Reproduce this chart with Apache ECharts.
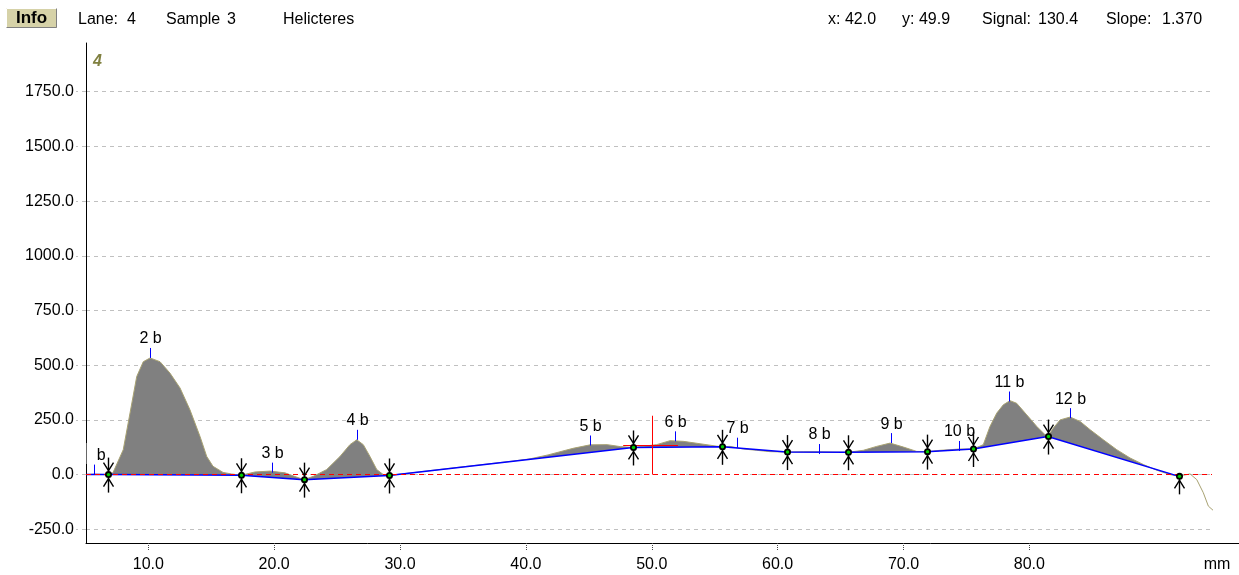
<!DOCTYPE html>
<html>
<head>
<meta charset="utf-8">
<script src="https://cdn.jsdelivr.net/npm/echarts@6/dist/echarts.min.js"></script>
<style>
html,body{margin:0;padding:0;background:#fff;}
#chart{width:1239px;height:575px;}
</style>
</head>
<body>
<div id="chart"></div>
<script>
// lane profile (mm, signal)
var profileX = [5.05, 5.69, 6.80, 7.19, 8.01, 8.55, 9.08, 9.60, 10.14, 10.93, 11.72, 12.52, 13.31, 14.11, 14.64, 15.14, 15.94, 16.60, 17.37,
	18.48, 19.67, 20.86, 21.66, 22.37, 23.11, 24.17, 25.23, 26.02, 26.56, 27.08, 27.61, 28.15, 28.67, 29.12,
	33.71, 39.00, 40.33, 41.76, 43.74, 45.10, 46.45, 47.49, 48.52, 50.39, 51.45, 52.51, 53.84, 55.16, 55.58,
	56.22, 57.27, 58.34, 59.39, 60.72, 62.04, 63.37, 65.57, 66.81, 67.87, 68.93, 69.99, 71.05, 71.85,
	72.90, 74.49, 75.55, 76.34, 76.87, 77.41, 77.93, 78.46, 78.99, 79.79, 80.59, 81.25, 81.46,
	81.91, 82.44, 83.24, 84.03, 84.83, 85.88, 86.94, 88.00, 89.06, 90.12, 91.18, 91.89, 92.24, 92.77, 93.30, 93.82, 94.22, 94.89];
var profileY = [0, 2, 0, 8, 114, 282, 448, 516, 533, 516, 464, 396, 296, 174, 83, 38, 10, 3, -3,
	12, 16, 8, -9, -23, -8, 23, 83, 137, 159, 137, 83, 23, 0, -4,
	27, 62, 72, 90, 120, 136, 137, 128, 124, 137, 155, 152, 141, 130, 127,
	129, 117, 111, 105, 103, 104, 104, 102, 111, 129, 144, 126, 106, 105,
	111, 117, 117, 137, 220, 281, 319, 338, 326, 273, 220, 182, 174,
	213, 250, 263, 243, 205, 159, 114, 76, 46, 20, 0, -8, -3, 3, -23, -83, -144, -178];
// band boundaries
var markerX = [6.80, 17.37, 22.37, 29.12, 48.52, 55.58, 60.72, 65.57, 71.85, 75.55, 81.46, 91.89];
var markerY = [0, -3, -23, -4, 124, 127, 103, 102, 105, 117, 174, -8];
var markerKind = ['both', 'both', 'both', 'both', 'both', 'both', 'both', 'both', 'both', 'both', 'both', 'up'];
// band tops
var peakX = [5.69, 10.14, 19.80, 26.56, 45.10, 51.84, 56.80, 63.29, 68.99, 74.44, 78.41, 83.24];
var peakY = [0, 533, 9, 159, 133, 152, 123, 94, 144, 108, 334, 258];
var peakNames = ['1 b', '2 b', '3 b', '4 b', '5 b', '6 b', '7 b', '8 b', '9 b', '10 b', '11 b', '12 b'];
// axes
var yTicks = [-250, 0, 250, 500, 750, 1000, 1250, 1500, 1750];
var xTicks = [10, 20, 30, 40, 50, 60, 70, 80];

var FONT = "'Liberation Sans', Arial, sans-serif";
var chart = echarts.init(document.getElementById('chart'));

var profileData = [];
for (var i = 0; i < profileX.length; i++) {
	profileData.push([profileX[i], profileY[i]]);
}
var baseData = [[profileX[0], 0]];
for (var i = 0; i < markerX.length; i++) {
	baseData.push([markerX[i], markerY[i]]);
}
var segData = [];
for (var i = 0; i < baseData.length - 1; i++) {
	segData.push([baseData[i][0], baseData[i + 1][0]]);
}
var markerData = [];
for (var i = 0; i < markerX.length; i++) {
	markerData.push([markerX[i], markerY[i]]);
}
var peakData = [];
for (var i = 0; i < peakX.length; i++) {
	peakData.push([peakX[i], peakY[i]]);
}

//灰色填充：曲线与基线之间
function renderFill(params, api) {
	var a = api.value(0), b = api.value(1);
	var pts = [];
	for (var k = 0; k < profileX.length; k++) {
		if (profileX[k] >= a - 1e-6 && profileX[k] <= b + 1e-6) {
			pts.push(api.coord([profileX[k], profileY[k]]));
		}
	}
	return {type: 'polygon', shape: {points: pts}, style: {fill: '#808080'}};
}

function renderMarker(params, api) {
	var p = api.coord([api.value(0), api.value(1)]);
	var x = Math.round(p[0]) + 0.5, y = p[1];
	var kind = markerKind[params.dataIndex];
	var st = {stroke: '#000', fill: null, lineWidth: 1.4};
	var children = [];
	children.push({type: 'line', shape: {x1: x, y1: kind === 'up' ? y : y - 17, x2: x, y2: y + 18}, style: st});
	if (kind !== 'up') {
		children.push({type: 'polyline', shape: {points: [[x - 5, y - 12], [x, y - 4], [x + 5, y - 12]]}, style: st});
	}
	children.push({type: 'polyline', shape: {points: [[x - 5, y + 12], [x, y + 4], [x + 5, y + 12]]}, style: st});
	children.push({type: 'circle', shape: {cx: x, cy: y, r: 3.5}, style: {fill: '#000'}});
	children.push({type: 'circle', shape: {cx: x, cy: y, r: 1.7}, style: {fill: '#00d000'}});
	return {type: 'group', children: children};
}

function renderPeak(params, api) {
	var p = api.coord([api.value(0), api.value(1)]);
	var x = Math.round(p[0]) + 0.5;
	return {type: 'group', children: [
		{type: 'line', shape: {x1: x, y1: p[1] - 10, x2: x, y2: p[1]}, style: {stroke: '#0000ff', lineWidth: 1}},
		{type: 'text', x: x, y: p[1] - 11,
			style: {text: peakNames[params.dataIndex], align: 'center', verticalAlign: 'bottom', fill: '#000', font: '16px ' + FONT}}
	]};
}

var option = {
	animation: false,
	backgroundColor: '#fff',
	grid: {left: 86, top: 43, right: 27, bottom: 32},
	xAxis: {
		type: 'value',
		min: 5.05,
		max: 94.51,
		axisLine: {onZero: false, lineStyle: {color: '#000', width: 1}},
		axisTick: {show: true, length: 7, customValues: xTicks, lineStyle: {color: '#444', type: 'dotted'}},
		axisLabel: {customValues: xTicks, margin: 14, color: '#000', fontFamily: FONT, fontSize: 16,
			formatter: function(v) { return v.toFixed(1); }},
		splitLine: {show: false}
	},
	yAxis: {
		type: 'value',
		min: -312.6,
		max: 1972.6,
		axisLine: {show: true, onZero: false, lineStyle: {color: '#000', width: 1}},
		axisTick: {show: true, length: 10, customValues: yTicks, lineStyle: {color: '#c0c0c0', type: [4, 4]}},
		axisLabel: {customValues: yTicks, margin: 12, color: '#000', fontFamily: FONT, fontSize: 16,
			formatter: function(v) { return v.toFixed(1); }},
		splitLine: {show: true, lineStyle: {color: '#c0c0c0', type: [4, 4]}}
	},
	series: [
		{
			type: 'custom', name: 'fill', renderItem: renderFill, data: segData,
			encode: {x: [0, 1]}, clip: true, silent: true, z: 1
		},
		{
			type: 'line', name: 'profile', data: profileData, showSymbol: false, clip: false,
			lineStyle: {color: '#a8a272', width: 1}, z: 2, silent: true,
			markLine: {
				silent: true, symbol: 'none', label: {show: false},
				data: [
					{yAxis: 0, lineStyle: {color: '#ff0000', type: [5, 4], width: 1}},
					[{coord: [50, 0], lineStyle: {color: '#ff0000', type: 'solid', width: 1}}, {coord: [50, 269]}],
					[{coord: [47.73, 132], lineStyle: {color: '#ff0000', type: 'solid', width: 1}}, {coord: [52.08, 132]}]
				]
			}
		},
		{
			type: 'line', name: 'baseline', data: baseData, showSymbol: false,
			lineStyle: {color: '#0000ff', width: 1.5}, z: 3, silent: true
		},
		{
			type: 'custom', name: 'peaks', renderItem: renderPeak, data: peakData,
			clip: true, silent: true, z: 4
		},
		{
			type: 'custom', name: 'markers', renderItem: renderMarker, data: markerData,
			clip: false, silent: true, z: 5
		}
	],
	graphic: [
		// 第一个峰标签被坐标轴截断，只露出 "b"
		{type: 'rect', z: 100, shape: {x: 66, y: 443, width: 19.5, height: 21}, style: {fill: '#fff'}},
		{type: 'rect', z: 100, shape: {x: 86.6, y: 443, width: 6, height: 21}, style: {fill: '#fff'}},
		{type: 'rect', left: 6, top: 8, shape: {width: 51, height: 20}, style: {fill: '#d6d2a8', stroke: null}},
		{type: 'polyline', shape: {points: [[6.5, 28], [6.5, 8.5], [57, 8.5]]}, style: {stroke: '#fff', fill: null, lineWidth: 1}},
		{type: 'polyline', shape: {points: [[6.5, 27.5], [56.5, 27.5], [56.5, 8.5]]}, style: {stroke: '#808080', fill: null, lineWidth: 1}},
		{type: 'text', x: 31.5, y: 18.5, style: {text: 'Info', align: 'center', verticalAlign: 'middle', font: 'bold 17px ' + FONT, fill: '#000'}},
		{type: 'text', x: 78, y: 20, style: {text: 'Lane:', verticalAlign: 'middle', font: '16px ' + FONT, fill: '#000'}},
		{type: 'text', x: 127, y: 20, style: {text: '4', verticalAlign: 'middle', font: '16px ' + FONT, fill: '#000'}},
		{type: 'text', x: 166, y: 20, style: {text: 'Sample', verticalAlign: 'middle', font: '16px ' + FONT, fill: '#000'}},
		{type: 'text', x: 227, y: 20, style: {text: '3', verticalAlign: 'middle', font: '16px ' + FONT, fill: '#000'}},
		{type: 'text', x: 283, y: 20, style: {text: 'Helicteres', verticalAlign: 'middle', font: '16px ' + FONT, fill: '#000'}},
		{type: 'text', x: 828, y: 20, style: {text: 'x: 42.0', verticalAlign: 'middle', font: '16px ' + FONT, fill: '#000'}},
		{type: 'text', x: 902, y: 20, style: {text: 'y: 49.9', verticalAlign: 'middle', font: '16px ' + FONT, fill: '#000'}},
		{type: 'text', x: 982, y: 20, style: {text: 'Signal:', verticalAlign: 'middle', font: '16px ' + FONT, fill: '#000'}},
		{type: 'text', x: 1038, y: 20, style: {text: '130.4', verticalAlign: 'middle', font: '16px ' + FONT, fill: '#000'}},
		{type: 'text', x: 1106, y: 20, style: {text: 'Slope:', verticalAlign: 'middle', font: '16px ' + FONT, fill: '#000'}},
		{type: 'text', x: 1162, y: 20, style: {text: '1.370', verticalAlign: 'middle', font: '16px ' + FONT, fill: '#000'}},
		{type: 'text', x: 93, y: 62, style: {text: '4', verticalAlign: 'middle', font: 'italic bold 16px ' + FONT, fill: '#808040'}},
		{type: 'text', x: 1217, y: 565, style: {text: 'mm', align: 'center', verticalAlign: 'middle', font: '16px ' + FONT, fill: '#000'}},
		{type: 'line', shape: {x1: 1212, y1: 543.5, x2: 1239, y2: 543.5}, style: {stroke: '#000', lineWidth: 1}}
	]
};
chart.setOption(option);
</script>
</body>
</html>
